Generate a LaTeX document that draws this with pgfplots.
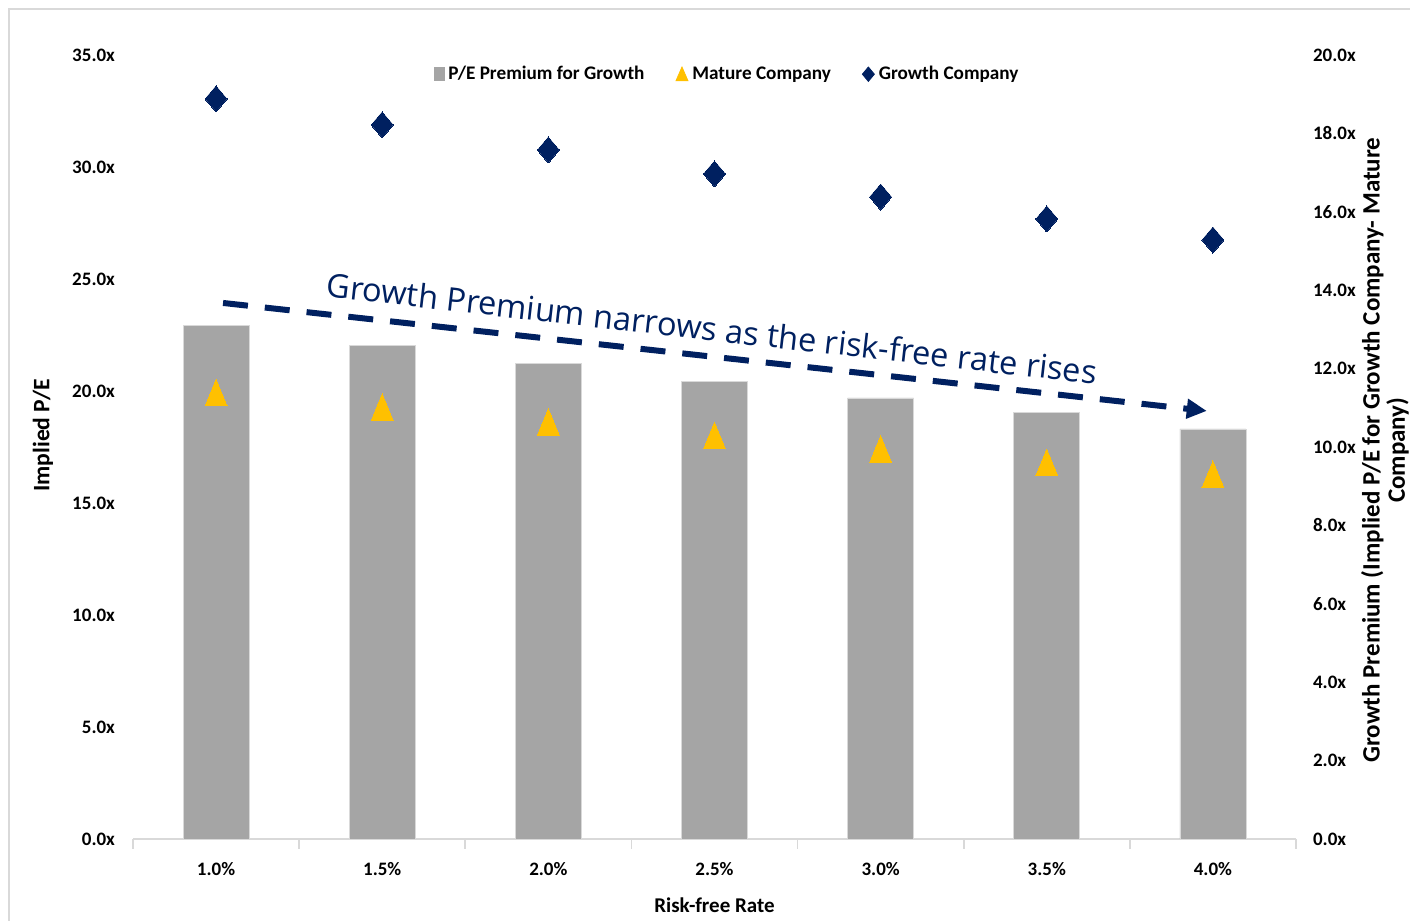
\documentclass[border=0pt]{standalone}
\usepackage{fontspec}
\setmainfont{Carlito}
\newfontfamily\annfont{Open Sans}
\usepackage{pgfplots}
\pgfplotsset{compat=1.18}
\usetikzlibrary{arrows.meta}
\definecolor{barcol}{HTML}{A5A5A5}
\definecolor{gold}{HTML}{FFC000}
\definecolor{navy}{HTML}{002060}
\definecolor{axgray}{HTML}{D9D9D9}
\begin{document}
\begin{tikzpicture}
\pgfplotsset{
  base/.style={at={(66.5pt,41pt)}, anchor=south west, width=581.5pt, height=392pt,
    scale only axis, xmin=-0.5, xmax=6.5, clip=false,
    tick label style={font=\bfseries\fontsize{9.5}{11}\selectfont},
    /pgf/number format/assume math mode=true},
}
\begin{axis}[base, ymin=0, ymax=20,
  axis x line*=bottom, axis y line*=right,
  x axis line style={draw=axgray, -, line width=0.8pt},
  y axis line style={draw=none},
  ytick={0,2,...,20},
  yticklabels={0.0x,2.0x,4.0x,6.0x,8.0x,10.0x,12.0x,14.0x,16.0x,18.0x,20.0x},
  xtick={0,...,6},
  xticklabels={1.0\%,1.5\%,2.0\%,2.5\%,3.0\%,3.5\%,4.0\%},
  minor xtick={-0.5,0.5,...,6.5},
  tick align=outside,
  major tick length=0pt,
  minor tick length=5pt,
  tick style={draw=axgray, line width=0.8pt},
  xticklabel style={yshift=-8pt},
  yticklabel style={xshift=5pt},
  xlabel={Risk-free Rate},
  xlabel style={font=\bfseries\fontsize{10.5}{12}\selectfont, at={(axis description cs:0.5,-0.085)}, anchor=center},
  ylabel={Growth Premium (Implied P/E for Growth Company- Mature\\Company)},
  ylabel style={font=\bfseries\fontsize{12.5}{12.6}\selectfont, align=center, at={(axis description cs:1.0765,0.496)}, anchor=center},
]
\addplot[ybar, bar width=33pt, fill=barcol, draw=axgray, line width=0.4pt]
  coordinates {(0,13.11) (1,12.60) (2,12.14) (3,11.68) (4,11.25) (5,10.87) (6,10.46)};
\end{axis}
\begin{axis}[base, ymin=0, ymax=35,
  hide x axis, axis y line*=left,
  y axis line style={draw=none},
  ytick={0,5,...,35},
  yticklabels={0.0x,5.0x,10.0x,15.0x,20.0x,25.0x,30.0x,35.0x},
  ytick style={draw=none}, major tick length=0pt,
  yticklabel style={xshift=-5.5pt},
  ylabel={Implied P/E},
  ylabel style={font=\bfseries\fontsize{11.8}{13}\selectfont, at={(axis description cs:-0.0774,0.515)}, anchor=center},
  legend columns=3,
  legend cell align=left,
  legend style={at={(axis description cs:0.5120,0.9755)}, anchor=center, draw=none, fill=none,
    font=\bfseries\fontsize{9.6}{11}\selectfont,
    /tikz/every even column/.append style={column sep=13.5pt}},
]
\addlegendimage{legend image code/.code={\fill[barcol] (0pt,-3.2pt) rectangle (4.6pt,3.2pt);}}
\addplot[only marks, mark=triangle*, mark size=6.35pt,
  mark options={fill=gold, draw=gold, line width=0pt, yshift=-2.2pt, yscale=1.4},
  legend image code/.code={\fill[gold] (0pt,-3.3pt) -- (6pt,-3.3pt) -- (3pt,3.6pt) -- cycle;}]
  coordinates {(0,19.93) (1,19.28) (2,18.62) (3,18.01) (4,17.41) (5,16.81) (6,16.28)};
\addplot[only marks, mark=diamond*, mark size=6.5pt,
  mark options={fill=navy, draw=navy, line width=0pt, xscale=1.13},
  legend image code/.code={\fill[navy] (3pt,3.6pt) -- (6pt,0pt) -- (3pt,-3.6pt) -- (0pt,0pt) -- cycle;}]
  coordinates {(0,33.04) (1,31.88) (2,30.76) (3,29.69) (4,28.66) (5,27.68) (6,26.74)};
\legend{P/E Premium for Growth, Mature Company, Growth Company}
\draw[navy, line width=3pt, dash pattern=on 12.5pt off 8.5pt, -{Triangle[length=10pt,width=9.5pt]}]
  (axis cs:0.042,23.93) -- (axis cs:5.963,19.11);
\node[rotate=-6.5, text=navy, font=\annfont\fontsize{16.3}{19}\selectfont, inner sep=0pt]
  at (axis cs:2.985,22.8) {Growth Premium narrows as the risk-free rate rises};
\end{axis}
\draw[axgray, line width=1pt] (4.5pt,-20pt) rectangle (730pt,456pt);
\pgfresetboundingbox
\useasboundingbox (0,0) rectangle (705pt,460.5pt);
\end{tikzpicture}
\end{document}
